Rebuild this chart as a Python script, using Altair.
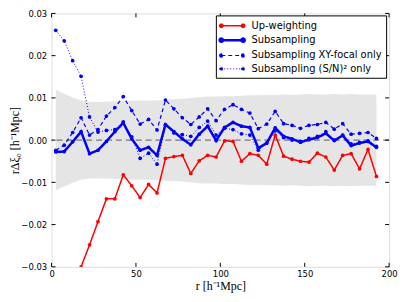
import altair as alt
import pandas as pd

r_bins = [2.5, 7.5, 12.5, 17.5, 22.5, 27.5, 32.5, 37.5, 42.5, 47.5,
          52.5, 57.5, 62.5, 67.5, 72.5, 77.5, 82.5, 87.5, 92.5, 97.5,
          102.5, 107.5, 112.5, 117.5, 122.5, 127.5, 132.5, 137.5, 142.5, 147.5,
          152.5, 157.5, 162.5, 167.5, 172.5, 177.5, 182.5, 187.5, 192.5]

upweight = [-0.046, -0.041, -0.0355, -0.0300, -0.0248, -0.0193, -0.0139, -0.0139, -0.0082, -0.0108,
            -0.0136, -0.0105, -0.0125, -0.0043, -0.0039, -0.0036, -0.0079, -0.0049, -0.0036, -0.0040,
            -0.0002, -0.0003, -0.0050, -0.0032, -0.0036, -0.0057, 0.0012, -0.0038, -0.0045, -0.0050,
            -0.0052, -0.0031, -0.0040, -0.0071, -0.0036, -0.0032, -0.0068, -0.0022, -0.0086]

subsamp = [-0.0028, -0.0027, -0.0004, 0.0020, -0.0032, -0.0024, -0.0003, 0.0020, 0.0041, 0.0003,
           -0.0024, -0.0017, -0.0036, 0.0037, 0.0020, 0.0003, -0.0011, 0.0014, 0.0033, -0.0001,
           0.0030, 0.0042, 0.0033, 0.0030, -0.0019, -0.0007, 0.0029, 0.0009, 0.0003, -0.0005,
           0.0001, 0.0006, 0.0016, -0.0001, 0.0011, -0.0013, -0.0007, -0.0003, -0.0017]

subsamp_xy = [-0.0024, -0.0012, 0.0018, 0.0053, 0.0012, 0.0025, 0.0057, 0.0077, 0.0103, 0.0070,
              0.0038, 0.0049, 0.0024, 0.0095, 0.0074, 0.0053, 0.0037, 0.0055, 0.0074, 0.0046,
              0.0073, 0.0084, 0.0073, 0.0064, 0.0027, 0.0038, 0.0068, 0.0039, 0.0035, 0.0028,
              0.0035, 0.0037, 0.0042, 0.0026, 0.0039, 0.0014, 0.0016, 0.0018, 0.0004]

subsamp_sn = [0.0260, 0.0235, 0.0188, 0.0151, 0.0055, 0.0019, 0.0023, 0.0025, 0.0043, 0.0008,
              -0.0043, -0.0031, -0.0057, 0.0035, 0.0017, 0.0013, 0.0009, 0.0030, 0.0045, 0.0012,
              0.0028, 0.0025, 0.0015, 0.0012, -0.0024, -0.0007, 0.0022, 0.0006, 0.0000, -0.0003,
              0.0004, 0.0009, 0.0020, 0.0000, 0.0012, -0.0009, -0.0005, -0.0002, -0.0015]

sigma = [0.0119, 0.0110, 0.0101, 0.0094, 0.0091, 0.0090, 0.0091, 0.0092, 0.0093, 0.0093,
         0.0094, 0.0094, 0.0094, 0.0096, 0.0097, 0.0098, 0.0100, 0.0102, 0.0103, 0.0103,
         0.0104, 0.0104, 0.0105, 0.0106, 0.0106, 0.0107, 0.0107, 0.0108, 0.0107, 0.0108,
         0.0109, 0.0108, 0.0108, 0.0109, 0.0108, 0.0109, 0.0108, 0.0108, 0.0108]

series_names = ["Up-weighting", "Subsampling", "Subsampling XY-focal only", "Subsampling (S/N)² only"]
series_values = [upweight, subsamp, subsamp_xy, subsamp_sn]
series_colors = ["#ff0000", "#0000ff", "#0000ff", "#0000ff"]
series_dash = [[1, 0], [1, 0], [4, 3], [1, 2]]
series_width = [1.5, 2.5, 1.2, 1.0]

x_ticks = [0, 50, 100, 150, 200]
y_ticks = [-0.03, -0.02, -0.01, 0.0, 0.01, 0.02, 0.03]

W, H = 341, 256

rows = []
for name, vals in zip(series_names, series_values):
    for rv, v in zip(r_bins, vals):
        rows.append({"r": rv, "v": v, "series": name})
df = pd.DataFrame(rows)

band_df = pd.DataFrame({"r": r_bins, "lo": [-s for s in sigma], "hi": sigma})

xs = alt.Scale(domain=[0, 200], nice=False, zero=False)
ys = alt.Scale(domain=[-0.03, 0.03], nice=False, zero=False)

x_axis = alt.Axis(
    values=x_ticks, format="d", title="r [h⁻¹Mpc]", grid=False, ticks=False, domain=False,
    labelFont="DejaVu Sans", labelFontSize=8.5, labelColor="black", labelPadding=3,
    labelFlush=False, titleFont="Liberation Serif", titleFontSize=12, titleFontWeight="normal",
    titleColor="black", titlePadding=2)
y_axis = alt.Axis(
    values=y_ticks, labelExpr="replace(format(datum.value, '.2f'), '-', '−')",
    title="rΔξ₀ [h⁻¹Mpc]", grid=False, ticks=False, domain=False,
    labelFont="DejaVu Sans", labelFontSize=8.5, labelColor="black", labelPadding=5,
    titleFont="Liberation Serif", titleFontSize=12, titleFontWeight="normal",
    titleColor="black", titleX=-37, titleBaseline="middle")

band = alt.Chart(band_df).mark_area(color="#e5e5e5", opacity=1).encode(
    x=alt.X("r:Q", scale=xs, axis=x_axis),
    y=alt.Y("lo:Q", scale=ys, axis=y_axis),
    y2="hi:Q",
)

zero = alt.Chart(pd.DataFrame({"y": [0.0]})).mark_rule(
    color="#777777", strokeDash=[6, 4], strokeWidth=1.5
).encode(y=alt.Y("y:Q", scale=ys, axis=y_axis))

legend_symbol = ("M-1,0H3"
                 "M-1.3,0A0.3,0.3 0 1,0 -0.7,0A0.3,0.3 0 1,0 -1.3,0"
                 "M2.7,0A0.3,0.3 0 1,0 3.3,0A0.3,0.3 0 1,0 2.7,0")

lines = alt.Chart(df).mark_line(
    clip=True, point=alt.OverlayMarkDef(filled=True, size=14, clip=True)
).encode(
    x=alt.X("r:Q", scale=xs, axis=x_axis),
    y=alt.Y("v:Q", scale=ys, axis=y_axis),
    color=alt.Color("series:N", sort=series_names,
                    scale=alt.Scale(domain=series_names, range=series_colors),
                    legend=alt.Legend(title=None, orient="none", legendX=166, legendY=2,
                                      symbolType=legend_symbol, symbolSize=121, labelOffset=18,
                                      labelFont="DejaVu Sans", labelFontSize=10, labelColor="black",
                                      strokeColor="black", fillColor="white", padding=4,
                                      rowPadding=2, labelLimit=300)),
    strokeDash=alt.StrokeDash("series:N", sort=series_names,
                              scale=alt.Scale(domain=series_names, range=series_dash)),
    strokeWidth=alt.StrokeWidth("series:N", sort=series_names,
                                scale=alt.Scale(type="ordinal", domain=series_names, range=series_width)),
    order=alt.Order("r:Q"),
)

tick_x = pd.DataFrame({"t": x_ticks})
tick_y = pd.DataFrame({"t": y_ticks})
xt_bottom = alt.Chart(tick_x).mark_rule(color="black", strokeWidth=1).encode(
    x=alt.X("t:Q", scale=xs, axis=x_axis), y=alt.value(H), y2=alt.value(H - 4))
xt_top = alt.Chart(tick_x).mark_rule(color="black", strokeWidth=1).encode(
    x=alt.X("t:Q", scale=xs, axis=x_axis), y=alt.value(0), y2=alt.value(4))
yt_left = alt.Chart(tick_y).mark_rule(color="black", strokeWidth=1).encode(
    y=alt.Y("t:Q", scale=ys, axis=y_axis), x=alt.value(0), x2=alt.value(4))
yt_right = alt.Chart(tick_y).mark_rule(color="black", strokeWidth=1).encode(
    y=alt.Y("t:Q", scale=ys, axis=y_axis), x=alt.value(W), x2=alt.value(W - 4))

chart = alt.layer(band, zero, lines, xt_bottom, xt_top, yt_left, yt_right).properties(
    width=W, height=H,
    autosize=alt.AutoSizeParams(type="none"),
    padding={"left": 44, "top": 4, "right": 10, "bottom": 28},
).configure_view(stroke="black", strokeWidth=1).configure(background="white")

chart.save("out.html", embed_options={"renderer": "svg", "actions": False})
